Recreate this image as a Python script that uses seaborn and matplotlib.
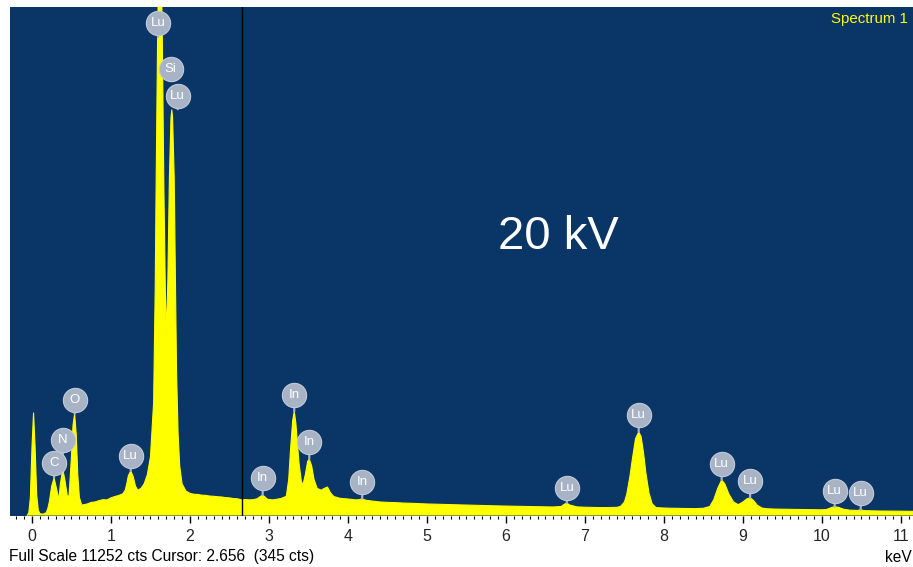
import matplotlib
matplotlib.use("Agg")
import matplotlib.pyplot as plt
from matplotlib.transforms import offset_copy
from matplotlib.ticker import MultipleLocator
import seaborn as sns
import pandas as pd

# EDS spectrum, 20 kV acquisition
energy_kev = [
    -0.06, -0.04, -0.02, 0.00, 0.02, 0.04, 0.06, 0.08, 0.10, 0.14, 0.18, 0.20,
    0.22, 0.25, 0.28, 0.31, 0.34, 0.36, 0.39, 0.42, 0.45, 0.47, 0.50, 0.52,
    0.54, 0.56, 0.58, 0.60, 0.63, 0.70, 0.75, 0.80, 0.85, 0.90, 0.95, 1.00,
    1.05, 1.10, 1.15, 1.18, 1.20, 1.22, 1.25, 1.28, 1.31, 1.34, 1.38, 1.42,
    1.46, 1.50, 1.54, 1.56, 1.57, 1.59, 1.61, 1.62, 1.63, 1.65, 1.67, 1.69,
    1.70, 1.72, 1.74, 1.76, 1.77, 1.78, 1.80, 1.83, 1.85, 1.87, 1.90, 1.95,
    2.00, 2.05, 2.10, 2.15, 2.20, 2.25, 2.30, 2.35, 2.40, 2.45, 2.50, 2.55,
    2.60, 2.656, 2.70, 2.75, 2.80, 2.85, 2.89, 2.92, 2.95, 2.98, 3.05, 3.10,
    3.15, 3.20, 3.22, 3.25, 3.27, 3.30, 3.32, 3.34, 3.36, 3.38, 3.41, 3.43,
    3.46, 3.49, 3.51, 3.54, 3.57, 3.61, 3.66, 3.70, 3.74, 3.78, 3.82, 3.90,
    4.00, 4.10, 4.14, 4.18, 4.22, 4.30, 4.40, 4.50, 4.60, 4.70, 4.80, 4.90,
    5.00, 5.10, 5.20, 5.30, 5.40, 5.50, 5.60, 5.70, 5.80, 5.90, 6.00, 6.10,
    6.20, 6.30, 6.40, 6.50, 6.60, 6.70, 6.74, 6.77, 6.81, 6.90, 7.00, 7.10,
    7.20, 7.30, 7.40, 7.45, 7.50, 7.53, 7.57, 7.60, 7.64, 7.68, 7.71, 7.74,
    7.77, 7.81, 7.85, 7.90, 8.00, 8.10, 8.20, 8.30, 8.40, 8.50, 8.58, 8.63,
    8.68, 8.73, 8.77, 8.82, 8.88, 8.94, 9.00, 9.05, 9.09, 9.13, 9.18, 9.24,
    9.30, 9.40, 9.50, 9.60, 9.70, 9.80, 9.90, 10.00, 10.06, 10.12, 10.16, 10.21,
    10.27, 10.35, 10.45, 10.49, 10.53, 10.60, 10.70, 10.80, 10.90, 11.00, 11.10, 11.16,
]
counts = [
    0, 60, 400, 1500, 2270, 1500, 450, 120, 40, 30, 60, 150,
    300, 650, 830, 600, 350, 700, 1030, 750, 400, 450, 1300, 2000,
    2250, 1800, 900, 400, 230, 255, 290, 300, 330, 350, 345, 390,
    420, 445, 480, 560, 700, 880, 985, 870, 650, 560, 600, 700,
    900, 1300, 2500, 5000, 7000, 10500, 13000, 13500, 13000, 10500, 7200, 4800,
    4000, 5200, 7500, 8800, 8975, 8800, 7500, 3200, 1800, 1100, 700, 540,
    490, 470, 465, 450, 445, 430, 425, 415, 410, 395, 390, 375,
    370, 345, 355, 345, 350, 370, 420, 450, 410, 360, 345, 360,
    375, 410, 430, 800, 1380, 2100, 2300, 2050, 1600, 1160, 750, 680,
    900, 1200, 1245, 1100, 800, 600, 560, 600, 630, 500, 420, 380,
    365, 345, 350, 370, 340, 320, 300, 290, 285, 275, 270, 262,
    255, 250, 245, 240, 235, 230, 226, 220, 215, 212, 208, 205,
    200, 198, 195, 190, 188, 200, 250, 275, 230, 190, 182, 178,
    175, 176, 180, 200, 300, 480, 880, 1250, 1700, 1850, 1750, 1400,
    950, 500, 260, 175, 165, 160, 158, 155, 152, 160, 200, 350,
    600, 785, 700, 480, 300, 240, 300, 370, 390, 340, 230, 165,
    150, 142, 140, 136, 133, 130, 128, 126, 135, 175, 195, 180,
    140, 118, 112, 128, 108, 104, 100, 98, 96, 95, 93, 92,
]

# Peak identifications: element, line energy and count level where the marker pin lands
peak_elements = ["C", "N", "O", "Lu", "Lu", "Si", "Lu", "In", "In", "In", "In",
                 "Lu", "Lu", "Lu", "Lu", "Lu", "Lu"]
peak_kev = [0.28, 0.39, 0.54, 1.25, 1.595, 1.756, 1.845, 2.92, 3.32, 3.51, 4.18,
            6.77, 7.68, 8.73, 9.09, 10.16, 10.49]
peak_counts = [830, 1030, 2250, 985, 10590, 9640, 8990, 450, 2300, 1245, 370,
               275, 1850, 785, 390, 195, 128]
# how far (pixels) each badge sits above its pin end
badge_lift_px = [15, 29, 14, 15, 14, 11, 13, 17, 17, 17, 17, 15, 17, 16, 17, 16, 17]

full_scale = 11252
cursor_kev = 2.656
cursor_counts = 345
tick_values = list(range(0, 12))

BG = "#0a3567"
YELLOW = "#ffff00"
BADGE = "#a8b3c5"

sns.set_style("white")
plt.rcParams["font.family"] = ["Liberation Sans", "DejaVu Sans"]

fig = plt.figure(figsize=(9.13, 5.67), dpi=100)
fig.patch.set_facecolor("white")
ax = fig.add_axes([10 / 913, 51.5 / 567, 903 / 913, 508.5 / 567])
ax.set_facecolor(BG)

spec = pd.DataFrame({"keV": energy_kev, "cts": counts})
ax.fill_between(spec["keV"], 0, spec["cts"], color=YELLOW, lw=0, zorder=2)
sns.lineplot(data=spec, x="keV", y="cts", ax=ax, color=YELLOW, lw=0.8,
             zorder=3, estimator=None, sort=False)

ax.set_xlim(-0.278, 11.152)
ax.set_ylim(0, full_scale)

# cursor marker
ax.axvline(cursor_kev, color="black", lw=1, zorder=4)

# element badges
for name, e, c, lift in zip(peak_elements, peak_kev, peak_counts, badge_lift_px):
    ax.annotate("", xy=(e, c), xycoords="data", xytext=(0, lift),
                textcoords="offset pixels",
                arrowprops=dict(arrowstyle="-", color=BADGE, lw=1.6,
                                shrinkA=0, shrinkB=0), zorder=5)
    tr = offset_copy(ax.transData, fig=fig, x=0, y=lift, units="dots")
    ax.scatter([e], [c], transform=tr, s=17.5 ** 2, color=BADGE,
               edgecolors="#c3cad6", linewidths=0.8, zorder=6, clip_on=False)
    ax.text(e, c, name, transform=tr, ha="center", va="center",
            color="white", fontsize=9.5, zorder=7)

fig.text(558 / 913, 1 - 237 / 567, "20 kV", color="white", fontsize=34,
         ha="center", va="center")
fig.text(908 / 913, 1 - 19 / 567, "Spectrum 1", color=YELLOW, fontsize=10.8,
         ha="right", va="center")

# axis ticks
ax.set_xticks(tick_values)
ax.set_xticklabels([str(t) for t in tick_values])
ax.xaxis.set_minor_locator(MultipleLocator(0.1))
ax.tick_params(axis="x", which="major", direction="out", length=5, width=1,
               color="black", labelsize=11.5, pad=5, bottom=True)
ax.tick_params(axis="x", which="minor", direction="out", length=2.5, width=0.8,
               color="black", bottom=True)
ax.set_yticks([])
ax.set_xlabel("")
ax.set_ylabel("")
for s in ax.spines.values():
    s.set_visible(False)

fig.text(9 / 913, 1 - 557 / 567,
         f"Full Scale {full_scale} cts Cursor: {cursor_kev:.3f}  ({cursor_counts} cts)",
         color="black", fontsize=11.2, ha="left", va="center")
fig.text(912 / 913, 1 - 557 / 567, "keV", color="black", fontsize=11.2,
         ha="right", va="center")

fig.savefig("out.png", dpi=100, facecolor="white")
